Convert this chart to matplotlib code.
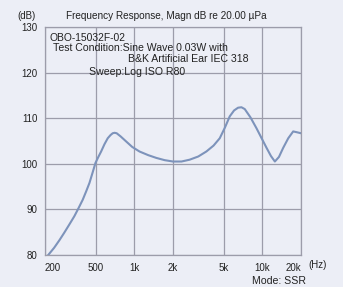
import matplotlib
matplotlib.use("Agg")
import matplotlib.pyplot as plt

freq = [212, 236, 260, 283, 310, 339, 366, 394, 420, 445, 470, 496, 522, 549, 583, 618, 650, 676, 700, 726, 780, 861, 960, 1094, 1280, 1478, 1720, 2000, 2330, 2698, 3150, 3646, 4150, 4636, 5100, 5549, 6000, 6445, 6850, 7272, 8050, 8979, 9850, 10760, 11650, 12500, 13450, 14520, 15900, 17380, 18700, 20000]
spl  = [80.0, 81.6, 83.3, 84.9, 86.7, 88.5, 90.3, 92.1, 94.0, 95.8, 98.0, 100.2, 101.5, 102.7, 104.3, 105.6, 106.3, 106.7, 106.8, 106.7, 106.0, 104.9, 103.7, 102.7, 101.9, 101.3, 100.8, 100.5, 100.5, 100.9, 101.6, 102.7, 104.0, 105.6, 108.0, 110.4, 111.7, 112.3, 112.4, 112.0, 110.2, 107.8, 105.6, 103.5, 101.7, 100.5, 101.5, 103.5, 105.6, 107.1, 106.9, 106.7]

xticks = [200, 500, 1000, 2000, 5000, 10000, 20000]
xtick_labels = ["200", "500", "1k", "2k", "5k", "10k", "20k"]
yticks = [80, 90, 100, 110, 120, 130]

bg = "#eceef6"
grid_c = "#9c9caa"
txt_c = "#222222"
plt.rcParams['font.family'] = ['Liberation Sans', 'DejaVu Sans']

fig = plt.figure(figsize=(3.43, 2.87), dpi=100, facecolor=bg)
ax = fig.add_axes([45/343, 1-255/287, 256/343, 228/287], facecolor=bg)
ax.set_xscale('log')
ax.set_xlim(200, 20000)
ax.set_ylim(80, 130)
ax.plot(freq, spl, color="#7d93bb", lw=1.5, solid_joinstyle='round')

ax.set_xticks(xticks)
ax.set_xticklabels(xtick_labels)
ax.xaxis.set_minor_locator(matplotlib.ticker.NullLocator())
ax.set_yticks(yticks)
ax.grid(True, color=grid_c, lw=0.9)
for s in ax.spines.values():
    s.set_color(grid_c)
    s.set_linewidth(0.9)
ax.tick_params(length=0, labelsize=7, colors=txt_c, pad=5.5)
ax.get_xticklabels()[0].set_ha('left')
ax.get_xticklabels()[-1].set_ha('right')

fig.text(26.7/343, 1-16/287, "(dB)", fontsize=7, color=txt_c, ha='center', va='center')
fig.text(166.7/343, 1-16/287, "Frequency Response, Magn dB re 20.00 \u00b5Pa", fontsize=7.2, color=txt_c, ha='center', va='center')
fig.text(318/343, 1-265.5/287, "(Hz)", fontsize=7, color=txt_c, ha='center', va='center')
fig.text(306/343, 1-281/287, "Mode: SSR", fontsize=7.6, color=txt_c, ha='right', va='center')

fig.text(50/343, 1-38.3/287, "OBO-15032F-02", fontsize=7.4, color=txt_c, ha='left', va='center')
fig.text(53/343, 1-47.8/287, "Test Condition:Sine Wave 0.03W with", fontsize=7.6, color=txt_c, ha='left', va='center')
fig.text(127.7/343, 1-59.5/287, "B&K Artificial Ear IEC 318", fontsize=7.6, color=txt_c, ha='left', va='center')
fig.text(89.3/343, 1-71.7/287, "Sweep:Log ISO R80", fontsize=7.6, color=txt_c, ha='left', va='center')

fig.savefig("out.png", dpi=100, facecolor=bg)
